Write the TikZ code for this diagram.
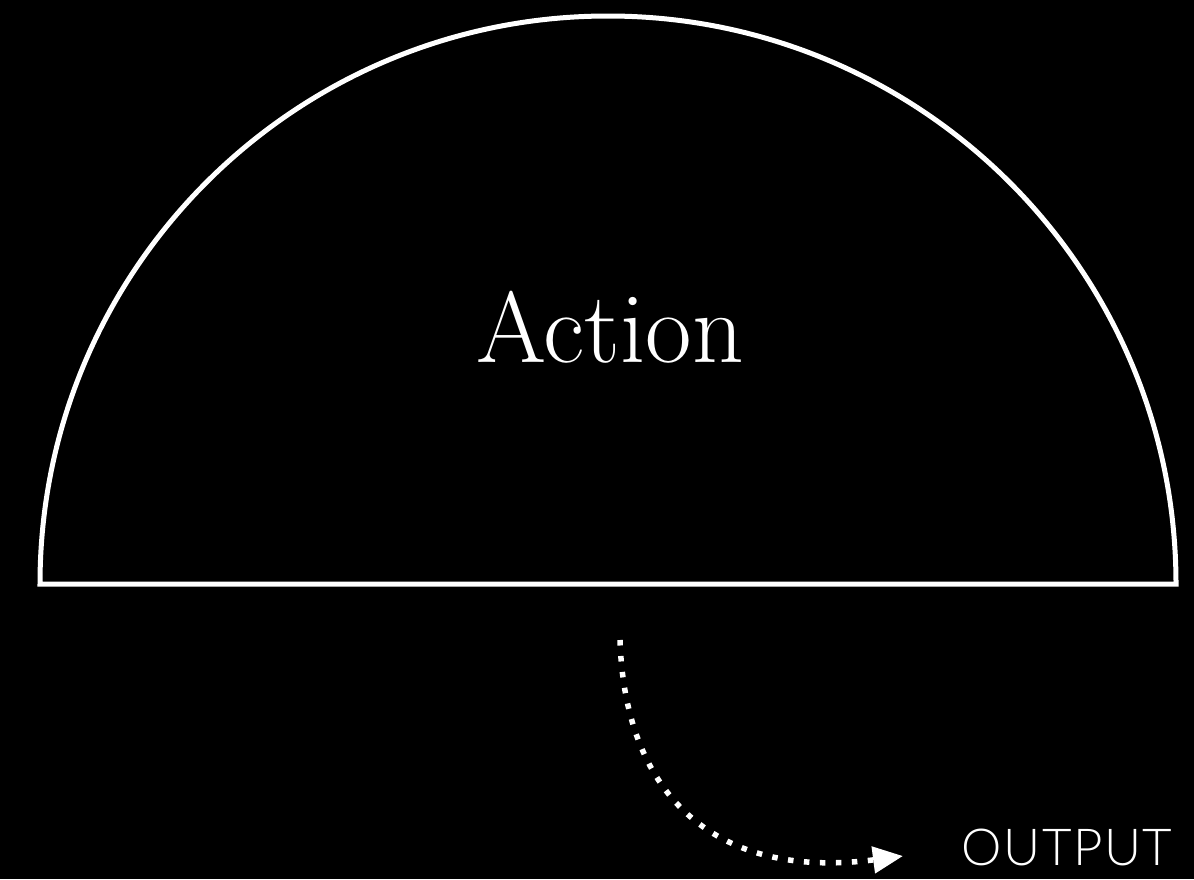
\documentclass[tikz,border=0pt]{standalone}
\usepackage{fontspec}
\usetikzlibrary{arrows.meta}
\newfontfamily\outfont{Lato Light}[LetterSpace=3]
\tikzset{
  halfdisc/.style={draw=white, line width=5pt, line join=miter},
  titletext/.style={text=white, font=\fontsize{101}{101}\selectfont, inner sep=0pt, anchor=base},
  outtext/.style={text=white, font=\outfont\fontsize{51}{51}\selectfont, inner sep=0pt, anchor=base},
  flow/.style={draw=white, line width=5.5pt, dash pattern=on 5.5pt off 10.5pt, -{Triangle[length=30pt,width=26pt]}}
}
\begin{document}
\begin{tikzpicture}[x=1pt,y=-1pt]
\fill[black] (0,0) rectangle (1194,879);
\useasboundingbox (0,0) rectangle (1194,879);
\draw[halfdisc] (1176,584) arc[start angle=0, end angle=-180, radius=568] -- cycle;
\node[titletext] (action) at (610,362) {Action};
\node[outtext] (output) at (1067,865) {OUTPUT};
\coordinate (start) at (620,640);
\coordinate (tip) at (903,856);
\draw[flow] (start) .. controls (625,800) and (720,880) .. (tip);
\end{tikzpicture}
\end{document}
